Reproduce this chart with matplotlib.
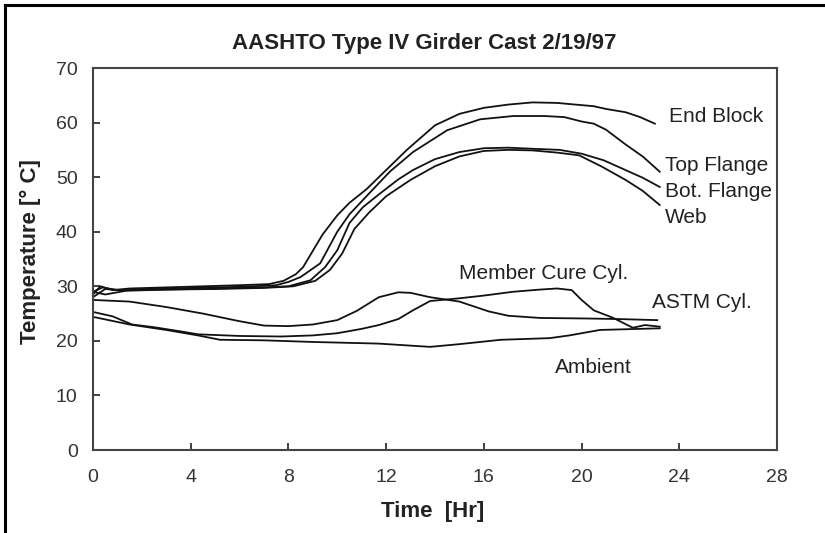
import matplotlib
matplotlib.use("Agg")
import matplotlib.pyplot as plt
from matplotlib.lines import Line2D

# =========================================================================
# 1. DATOS (tiempo en horas, temperatura en °C)
# =========================================================================
t_end_block = [0, 0.3, 0.8, 1.5, 3, 4.5, 6, 7.2, 7.8, 8.3, 8.6, 9.0, 9.4, 10.0, 10.5,
               11.2, 12.0, 12.85, 14.0, 15.0, 16.0, 17.0, 18.0, 19.0, 20.0, 20.5,
               21.0, 21.8, 22.4, 23.0]
temp_end_block = [28.5, 30.0, 29.3, 29.6, 29.8, 30.0, 30.2, 30.4, 31.0, 32.2, 33.5, 36.5,
                  39.5, 43.0, 45.3, 47.8, 51.3, 55.0, 59.5, 61.6, 62.7, 63.3, 63.7, 63.6,
                  63.2, 63.0, 62.5, 61.9, 61.0, 59.8]

t_top_flange = [0, 0.4, 1, 2, 4, 6, 7.5, 8.0, 8.5, 9.3, 10.0, 10.5, 11.3, 12.15, 13.1,
                14.5, 15.85, 17.2, 18.5, 19.3, 20.0, 20.5, 21.0, 21.8, 22.5, 23.2]
temp_top_flange = [29.0, 29.8, 29.3, 29.5, 29.7, 29.9, 30.2, 30.8, 31.7, 34.2, 40.0, 43.2,
                   47.0, 51.0, 54.6, 58.6, 60.6, 61.2, 61.2, 61.0, 60.2, 59.8, 58.7, 56.0,
                   53.8, 51.0]

t_bot_flange = [0, 0.5, 1.5, 3, 5, 7, 8.0, 8.9, 9.5, 10.0, 10.5, 11.05, 11.75, 12.5, 13.1,
                14.0, 15.0, 16.0, 17.0, 18.0, 19.1, 20.0, 20.9, 21.8, 22.5, 23.2]
temp_bot_flange = [29.0, 28.5, 29.3, 29.4, 29.6, 29.8, 30.0, 31.1, 33.5, 36.6, 41.6, 44.5,
                   47.0, 49.6, 51.3, 53.3, 54.6, 55.3, 55.4, 55.2, 55.0, 54.3, 53.1, 51.3,
                   49.9, 48.2]

t_web = [0, 0.5, 1.5, 3, 5, 7, 8.2, 9.1, 9.7, 10.2, 10.7, 11.3, 12.0, 13.0, 14.0, 15.0,
         16.0, 17.0, 18.0, 19.0, 19.9, 20.8, 21.8, 22.5, 23.2]
temp_web = [28.0, 29.5, 29.2, 29.4, 29.5, 29.7, 30.0, 31.0, 33.0, 36.0, 40.5, 43.5, 46.5,
            49.5, 52.0, 53.8, 54.8, 55.0, 54.9, 54.5, 54.0, 52.0, 49.5, 47.5, 44.9]

t_astm = [0, 1.5, 3.0, 4.5, 6.0, 7.0, 8.0, 9.0, 10.0, 10.8, 11.7, 12.5, 13.0, 13.8, 15.0,
          16.2, 17.0, 18.3, 20.2, 21.5, 23.1]
temp_astm = [27.5, 27.2, 26.2, 25.0, 23.6, 22.8, 22.7, 23.0, 23.8, 25.5, 28.0, 28.9, 28.8,
             28.0, 27.2, 25.4, 24.6, 24.2, 24.1, 24.0, 23.8]

t_member_cure = [0, 0.8, 1.6, 2.5, 3.5, 4.3, 6.0, 7.7, 9.0, 10.0, 11.0, 11.7, 12.5, 13.1,
                 13.8, 15.0, 16.0, 17.2, 18.3, 19.0, 19.6, 20.0, 20.5, 21.3, 22.1, 22.6,
                 23.2]
temp_member_cure = [25.3, 24.5, 23.0, 22.5, 21.8, 21.2, 20.9, 20.8, 21.0, 21.4, 22.2, 22.9,
                    24.0, 25.6, 27.3, 27.8, 28.3, 29.0, 29.4, 29.6, 29.3, 27.5, 25.6, 24.2,
                    22.4, 22.9, 22.6]

t_ambient = [0, 1.5, 3.0, 4.3, 5.2, 7.0, 9.0, 11.7, 13.8, 15.0, 16.7, 18.7, 19.5, 20.75, 23.2]
temp_ambient = [24.4, 23.0, 22.0, 21.0, 20.2, 20.1, 19.8, 19.5, 18.9, 19.4, 20.2, 20.5,
                21.0, 22.0, 22.3]

# Etiquetas escritas junto a cada curva: (texto, t, temperatura)
etiquetas = [
    ("End Block", 23.6, 61.2),
    ("Top Flange", 23.4, 52.2),
    ("Bot. Flange", 23.4, 47.3),
    ("Web", 23.4, 42.6),
    ("Member Cure Cyl.", 15.0, 32.3),
    ("ASTM Cyl.", 22.9, 27.1),
    ("Ambient", 18.9, 15.2),
]

x_ticks = [0, 4, 8, 12, 16, 20, 24, 28]
y_ticks = [0, 10, 20, 30, 40, 50, 60, 70]

# =========================================================================
# 2. FIGURA
# =========================================================================
plt.rcParams['font.family'] = ['Liberation Sans', 'DejaVu Sans']

fig = plt.figure(figsize=(8.25, 5.33), dpi=100)
ax = fig.add_axes([0.1127, 0.1557, 0.8291, 0.7167])

series = [
    (t_end_block, temp_end_block),
    (t_top_flange, temp_top_flange),
    (t_bot_flange, temp_bot_flange),
    (t_web, temp_web),
    (t_astm, temp_astm),
    (t_member_cure, temp_member_cure),
    (t_ambient, temp_ambient),
]
for t, temp in series:
    ax.plot(t, temp, color='#111111', linewidth=1.3)

for texto, t, temp in etiquetas:
    ax.text(t, temp, texto, fontsize=15, color='#222222', ha='left', va='center')

ax.set_xlim(0, 28)
ax.set_ylim(0, 70)
ax.set_xticks(x_ticks)
ax.set_yticks(y_ticks)
ax.tick_params(axis='x', direction='in', length=5, width=1.3, colors='#333333',
               labelsize=14, pad=14)
ax.tick_params(axis='y', direction='in', length=5, width=1.3, colors='#333333',
               labelsize=14, pad=11)

for lado in ['left', 'right', 'top', 'bottom']:
    ax.spines[lado].set_color('#444444')
    ax.spines[lado].set_linewidth(1.5)

ax.set_title("AASHTO Type IV Girder Cast 2/19/97", fontsize=16, fontweight='bold',
             color='#222222', pad=14, x=0.485)
ax.set_xlabel("Time  [Hr]", fontsize=16, fontweight='bold', color='#222222', va='center')
ax.xaxis.set_label_coords(0.497, -0.162)
ax.set_ylabel("Temperature [° C]", fontsize=16, fontweight='bold', color='#222222',
              va='center')
ax.yaxis.set_label_coords(-0.092, 0.52)

# Marco negro de la figura (izquierda y arriba)
x_borde = 5 / 825
y_borde = 1 - 5 / 533
fig.add_artist(Line2D([x_borde, x_borde], [0, y_borde], color='black', linewidth=2.2,
                      transform=fig.transFigure))
fig.add_artist(Line2D([x_borde, 1], [y_borde, y_borde], color='black', linewidth=2.2,
                      transform=fig.transFigure))

fig.savefig("out.png", dpi=100)
plt.close(fig)
